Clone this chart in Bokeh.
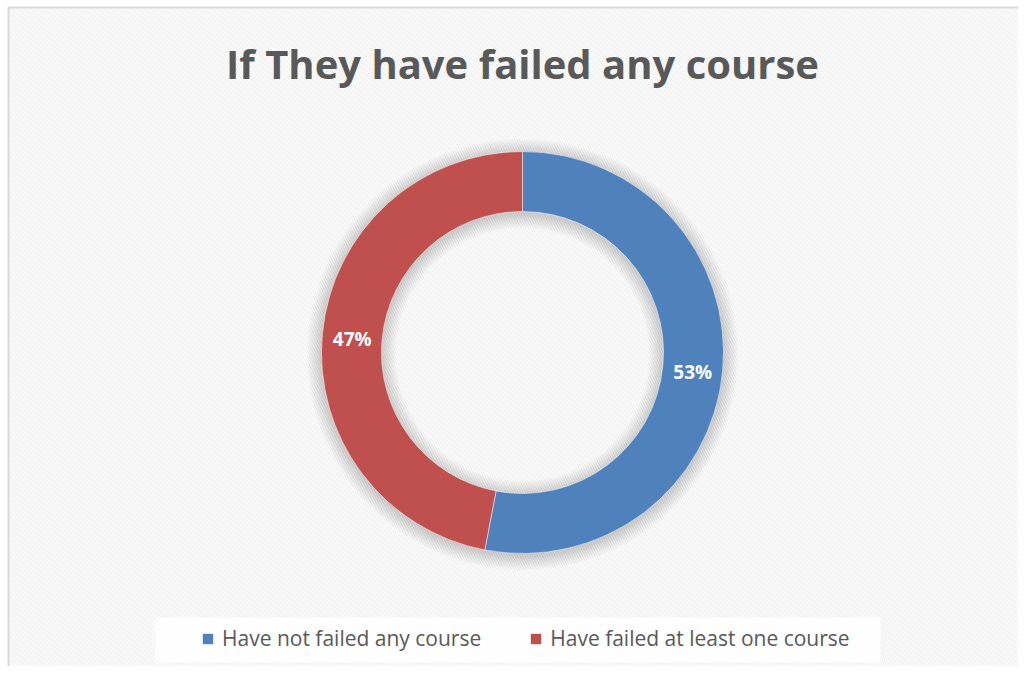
import numpy as np
from bokeh.plotting import figure
from bokeh.models import Legend, LegendItem, ColumnDataSource
from bokeh.core.properties import value
from bokeh.embed import file_html
from bokeh.resources import INLINE

title = "If They have failed any course"
categories = ["Have not failed any course", "Have failed at least one course"]
values = [53, 47]
colors = ["#4f81bd", "#c0504d"]

W, H = 1018, 666
CX, CY = 522, 314
R_OUT, R_IN = 201, 141

p = figure(width=W, height=H, x_range=(0, W), y_range=(0, H),
           output_backend="svg", toolbar_location=None, min_border=0,
           background_fill_color="white", border_fill_color="white")
p.axis.visible = False
p.grid.visible = False
p.outline_line_color = None

# hatched chart area with border
p.quad(left=[8], right=[W + 10], bottom=[-10], top=[659], fill_color="white",
       line_color="#d9d9d9", line_width=2, hatch_pattern="left_diagonal_line",
       hatch_color="#ebebeb", hatch_weight=1, hatch_scale=5)

# soft shadow around ring
for k in range(1, 16):
    p.annulus(x=[CX], y=[CY - 2], inner_radius=R_IN - k, outer_radius=R_OUT + k,
              fill_color="#000000", fill_alpha=0.011, line_color=None)

total = sum(values)
fr = np.array(values) / total
ends = np.pi / 2 - np.cumsum(fr) * 2 * np.pi
starts = np.concatenate([[np.pi / 2], ends[:-1]])
mids = (starts + ends) / 2
rm = (R_OUT + R_IN) / 2
src = ColumnDataSource(dict(
    cat=categories, color=colors, start=starts, end=ends,
    lx=CX + rm * np.cos(mids), ly=CY + rm * np.sin(mids) - 3,
    lab=[f"{v / total * 100:.0f}%" for v in values]))

p.annular_wedge(x=CX, y=CY, inner_radius=R_IN, outer_radius=R_OUT,
                start_angle="start", end_angle="end", direction="clock",
                fill_color="color", line_color="white", line_width=0.5, source=src)

p.text(x="lx", y="ly", text="lab", source=src, text_align="center",
       text_baseline="middle", text_color="white", text_font=value("Open Sans"),
       text_font_style="bold", text_font_size="19px")

p.text(x=[522], y=[H - 63], text=[title], text_align="center",
       text_baseline="alphabetic", text_color="#595959", text_font=value("Open Sans"),
       text_font_style="bold", text_font_size="40px")

# legend background box
p.quad(left=[155], right=[880], bottom=[4], top=[49], fill_color="white",
       fill_alpha=0.85, line_color=None)

items = []
for c, col in zip(categories, colors):
    r = p.quad(left=[np.nan], right=[np.nan], bottom=[np.nan], top=[np.nan],
               fill_color=col, line_color=None)
    items.append(LegendItem(label=c, renderers=[r]))
leg = Legend(items=items, orientation="horizontal", location=(201, 14),
             label_text_font="Open Sans", label_text_font_size="21px",
             label_text_color="#595959", glyph_width=13, glyph_height=13,
             label_standoff=8, spacing=48, padding=6, margin=0,
             background_fill_alpha=0, border_line_color=None)
p.add_layout(leg, "center")

open("out.html", "w").write(file_html(p, INLINE))
